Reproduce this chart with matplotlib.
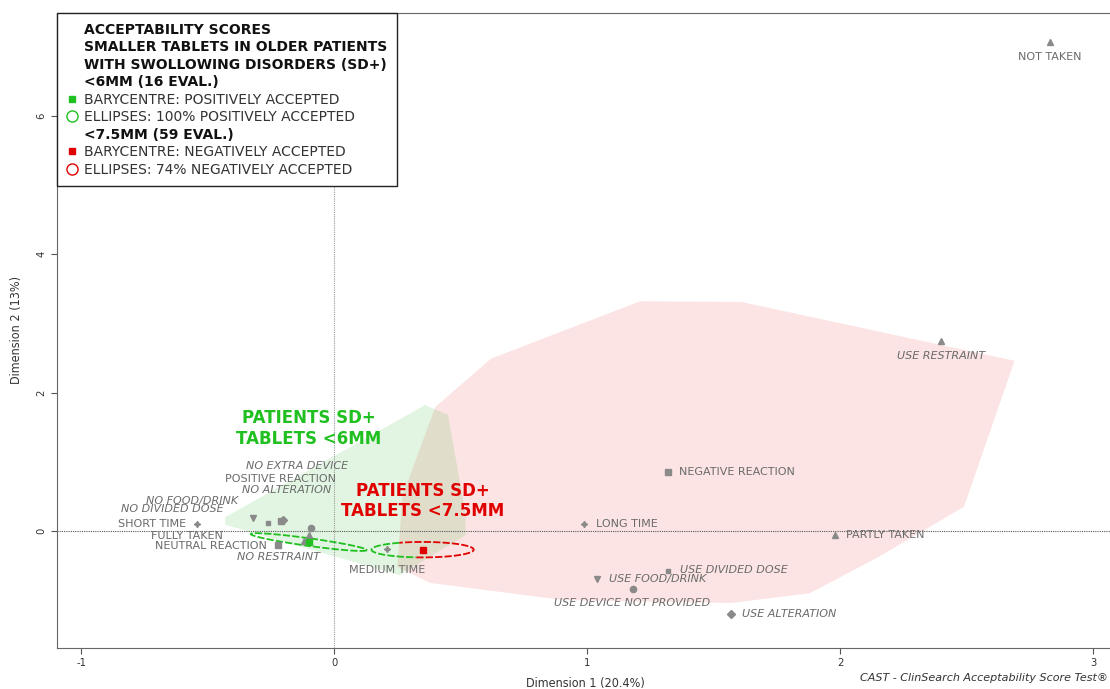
import numpy as np
import matplotlib.pyplot as plt
from matplotlib.lines import Line2D
from matplotlib.patches import Polygon

plt.rcParams["axes.unicode_minus"] = False

# category points on the first two dimensions
labels = ["NOT TAKEN", "USE RESTRAINT", "NEGATIVE REACTION", "LONG TIME", "PARTLY TAKEN",
          "USE DIVIDED DOSE", "USE FOOD/DRINK", "USE DEVICE NOT PROVIDED", "USE ALTERATION",
          "MEDIUM TIME", "SHORT TIME", "NO FOOD/DRINK", "NO DIVIDED DOSE", "POSITIVE REACTION",
          "NO ALTERATION", "NO EXTRA DEVICE", "FULLY TAKEN", "NEUTRAL REACTION", "NO RESTRAINT"]
dim1 = [2.83, 2.40, 1.32, 0.99, 1.98, 1.32, 1.04, 1.18, 1.57, 0.21, -0.54, -0.32, -0.26,
        -0.21, -0.20, -0.09, -0.10, -0.22, -0.12]
dim2 = [7.07, 2.75, 0.85, 0.10, -0.06, -0.58, -0.69, -0.84, -1.20, -0.26, 0.10, 0.19, 0.12,
        0.15, 0.16, 0.04, -0.06, -0.20, -0.15]
variable = ["taken", "restraint", "reaction", "time", "taken", "dose", "food", "device",
            "alteration", "time", "time", "food", "dose", "reaction", "alteration", "device",
            "taken", "reaction", "restraint"]

# barycentres of the two groups
bary_small = (-0.10, -0.16)   # <6MM
bary_large = (0.35, -0.27)    # <7.5MM

# ellipse semi-axis vectors (data units)
ell_small_axes = [(0.229, -0.116), (-0.002, -0.055)]
ell_large_axes = [(0.202, 0.0), (0.0, 0.112)]

# convex hulls of the evaluations
hull_small_x = [-0.43, 0.36, 0.45, 0.52, 0.52, 0.26, -0.43]
hull_small_y = [0.20, 1.82, 1.68, 0.26, -0.06, -0.64, 0.09]
hull_large_x = [0.40, 0.62, 1.21, 1.61, 2.69, 2.49, 2.15, 1.88, 1.57, 0.91, 0.38, 0.25, 0.27]
hull_large_y = [1.79, 2.49, 3.32, 3.31, 2.46, 0.35, -0.38, -0.90, -1.04, -1.00, -0.75, -0.52, 0.50]

# --- style / layout ---
markers = {"taken": "^", "restraint": "^", "reaction": "s", "time": (4, 1, 0), "dose": "s",
           "food": "v", "device": "o", "alteration": "D"}
msize = {"taken": 5, "restraint": 5, "reaction": 3.8, "time": 4.5, "dose": 3.5,
         "food": 5, "device": 4.5, "alteration": 3.8}
italic_vars = {"restraint", "dose", "food", "device", "alteration"}
# label offsets in points and alignment
offsets = {
    "NOT TAKEN": (0, -11, "center"), "USE RESTRAINT": (0, -11, "center"),
    "NEGATIVE REACTION": (8, 0, "left"), "LONG TIME": (8, 0, "left"),
    "PARTLY TAKEN": (8, 0, "left"), "USE DIVIDED DOSE": (9, 1, "left"),
    "USE FOOD/DRINK": (8.5, 0, "left"), "USE DEVICE NOT PROVIDED": (0, -10, "center"),
    "USE ALTERATION": (8, 0, "left"), "MEDIUM TIME": (0, -15, "center"),
    "SHORT TIME": (-8, 0, "right"), "NO FOOD/DRINK": (-11, 12, "right"),
    "NO DIVIDED DOSE": (-32, 9.5, "right"), "POSITIVE REACTION": (0, 30, "center"),
    "NO ALTERATION": (2, 21.5, "center"), "NO EXTRA DEVICE": (-10, 44.5, "center"),
    "FULLY TAKEN": (-62, -0.5, "right"), "NEUTRAL REACTION": (-8, -0.5, "right"),
    "NO RESTRAINT": (-18, -11.5, "center"),
}
GREEN = "#1fc01f"
RED = "#e00000"
GREY = "#8a8a8a"
LABEL = "#6a6a6a"
NARROW = dict(family="DejaVu Sans", stretch="condensed")

fig = plt.figure(figsize=(11.1, 6.89), dpi=100)
ax = fig.add_axes([57 / 1110, 41 / 689, 1056 / 1110, 635 / 689])
ax.set_xlim(-1.095, 3.079)
ax.set_ylim(-1.691, 7.486)

# hulls
ax.add_patch(Polygon(np.column_stack([hull_large_x, hull_large_y]), closed=True,
                     facecolor="#f06060", alpha=0.17, edgecolor="none", zorder=1))
ax.add_patch(Polygon(np.column_stack([hull_small_x, hull_small_y]), closed=True,
                     facecolor="#40c040", alpha=0.15, edgecolor="none", zorder=1))

ax.axhline(0, color="#555555", linestyle=(0, (1, 1)), linewidth=0.8, zorder=2)
ax.axvline(0, color="#999999", linestyle=(0, (1, 1)), linewidth=0.8, zorder=2)


def ellipse_arc(center, axes_vec, t0, t1, color):
    t = np.radians(np.linspace(t0, t1, 200))
    (ax1, ay1), (ax2, ay2) = axes_vec
    xs = center[0] + ax1 * np.cos(t) + ax2 * np.sin(t)
    ys = center[1] + ay1 * np.cos(t) + ay2 * np.sin(t)
    ax.plot(xs, ys, color=color, linestyle=(0, (4, 1.2)), linewidth=1.3, zorder=3)


ellipse_arc(bary_small, ell_small_axes, 0, 360, GREEN)
ellipse_arc(bary_large, ell_large_axes, 117, 263, GREEN)
ellipse_arc(bary_large, ell_large_axes, 263, 477, RED)

# category points and labels
for lab, x, y, v in zip(labels, dim1, dim2, variable):
    ax.plot(x, y, marker=markers[v], markersize=msize[v], color=GREY, linestyle="none", zorder=4)
    dx, dy, ha = offsets[lab]
    ax.annotate(lab, (x, y), xytext=(dx, dy), textcoords="offset points", ha=ha, va="center",
                fontsize=8, color=LABEL, style="italic" if v in italic_vars else "normal",
                zorder=5)

ax.plot(*bary_small, marker="s", markersize=5, color=GREEN, zorder=6)
ax.plot(*bary_large, marker="s", markersize=5, color=RED, zorder=6)

ax.annotate("PATIENTS SD+\nTABLETS <6MM", bary_small, xytext=(0, 82), textcoords="offset points",
            ha="center", va="center", fontsize=12, fontweight="bold", color=GREEN, zorder=6)
ax.annotate("PATIENTS SD+\nTABLETS <7.5MM", bary_large, xytext=(0, 35), textcoords="offset points",
            ha="center", va="center", fontsize=12, fontweight="bold", color=RED, zorder=6)

# legend
blank = Line2D([], [], linestyle="none")
handles = [blank, blank, blank, blank,
           Line2D([], [], marker="s", color=GREEN, linestyle="none", markersize=4),
           Line2D([], [], marker="o", markerfacecolor="none", markeredgecolor=GREEN,
                  linestyle="none", markersize=8),
           blank,
           Line2D([], [], marker="s", color=RED, linestyle="none", markersize=4),
           Line2D([], [], marker="o", markerfacecolor="none", markeredgecolor=RED,
                  linestyle="none", markersize=8)]
leg_labels = ["ACCEPTABILITY SCORES", "SMALLER TABLETS IN OLDER PATIENTS",
              "WITH SWOLLOWING DISORDERS (SD+)", "<6MM (16 EVAL.)",
              "BARYCENTRE: POSITIVELY ACCEPTED", "ELLIPSES: 100% POSITIVELY ACCEPTED",
              "<7.5MM (59 EVAL.)", "BARYCENTRE: NEGATIVELY ACCEPTED",
              "ELLIPSES: 74% NEGATIVELY ACCEPTED"]
leg = ax.legend(handles, leg_labels, loc="upper left", borderaxespad=0, fontsize=10,
                fancybox=False, framealpha=1, edgecolor="#222222", labelspacing=0.25,
                handlelength=0.8, handletextpad=0.45, borderpad=0.7)
leg.get_frame().set_linewidth(1.0)
for i, t in enumerate(leg.get_texts()):
    if i in (0, 1, 2, 3, 6):
        t.set_fontweight("bold")
        t.set_color("#111111")
    else:
        t.set_color("#333333")

# axes
for s in ax.spines.values():
    s.set_color("#666666")
ax.set_xticks([-1, 0, 1, 2, 3])
ax.set_yticks([0, 2, 4, 6])
ax.tick_params(colors="#555555", labelcolor="#333333", length=4, labelsize=8)
for t in ax.get_xticklabels() + ax.get_yticklabels():
    t.set_family(NARROW["family"])
    t.set_stretch(NARROW["stretch"])
ax.tick_params(axis="y", labelrotation=90)
for t in ax.get_yticklabels():
    t.set_va("center")
ax.set_xlabel("Dimension 1 (20.4%)", fontsize=9, color="#333333", labelpad=6, **NARROW)
ax.set_ylabel("Dimension 2 (13%)", fontsize=9, color="#333333", labelpad=10, **NARROW)

fig.text(0.998, 11 / 689, "CAST - ClinSearch Acceptability Score Test®", ha="right", va="center",
         fontsize=8, style="italic", color="#333333")

fig.savefig("out.png", dpi=100)
